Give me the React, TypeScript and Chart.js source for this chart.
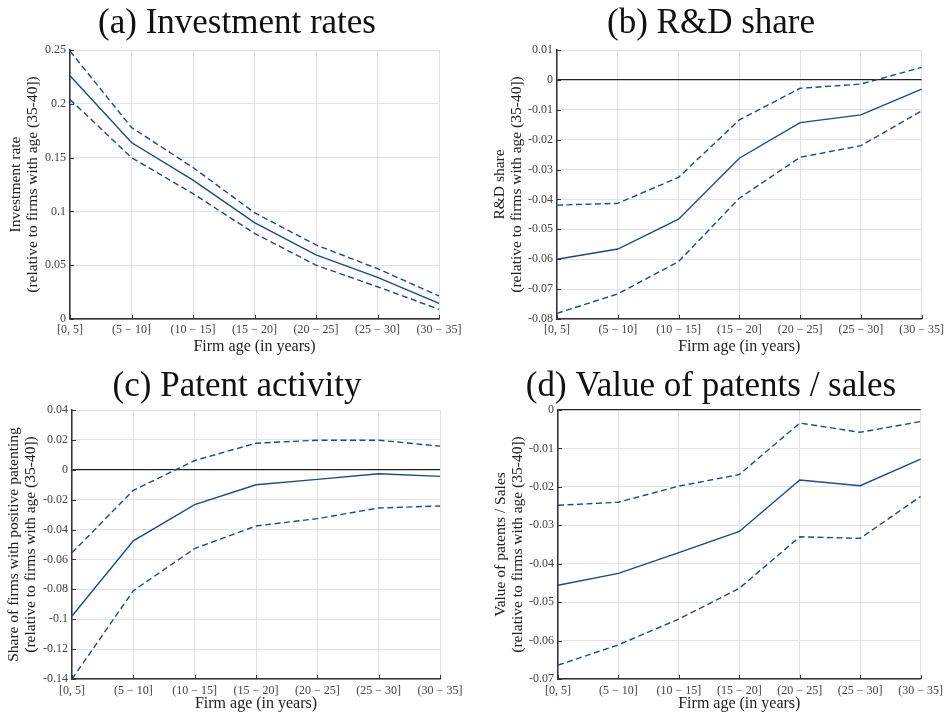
import React, { useEffect, useRef } from 'react';
import { Chart, registerables } from 'chart.js';

Chart.register(...registerables);

const FONT = "'Liberation Serif', 'Times New Roman', serif";
const LINE_COLOR = '#1b4b8c';

const ageGroups = ['[0, 5]', '(5 − 10]', '(10 − 15]', '(15 − 20]', '(20 − 25]', '(25 − 30]', '(30 − 35]'];

// (a) Investment rates
const invEst = [0.226, 0.164, 0.129, 0.0895, 0.0595, 0.0387, 0.0146];
const invUpper = [0.249, 0.178, 0.1408, 0.0988, 0.0688, 0.0468, 0.0214];
const invLower = [0.204, 0.15, 0.1165, 0.0796, 0.05, 0.03, 0.009];

// (b) R&D share
const rdEst = [-0.06, -0.0566, -0.0466, -0.0262, -0.0143, -0.0117, -0.0031];
const rdUpper = [-0.0419, -0.0413, -0.0326, -0.0134, -0.0028, -0.0014, 0.0042];
const rdLower = [-0.0781, -0.0716, -0.0608, -0.0396, -0.0259, -0.022, -0.0104];

// (c) Patent activity
const patEst = [-0.0978, -0.0476, -0.0233, -0.01, -0.0064, -0.0027, -0.0044];
const patUpper = [-0.0555, -0.0138, 0.0062, 0.0178, 0.0198, 0.0198, 0.0158];
const patLower = [-0.14, -0.0809, -0.0527, -0.0376, -0.0327, -0.0256, -0.0242];

// (d) Value of patents / sales
const valEst = [-0.0456, -0.0425, -0.0371, -0.0316, -0.0182, -0.0197, -0.0128];
const valUpper = [-0.0248, -0.024, -0.0198, -0.0168, -0.0034, -0.0058, -0.003];
const valLower = [-0.0664, -0.0611, -0.0544, -0.0464, -0.033, -0.0334, -0.0225];

const titles = ['(a) Investment rates', '(b) R&D share', '(c) Patent activity', '(d) Value of patents / sales'];
const yTitles = [
  ['Investment rate', '(relative to firms with age (35-40])'],
  ['R&D share', '(relative to firms with age (35-40])'],
  ['Share of firms with positive patenting', '(relative to firms with age (35-40])'],
  ['Value of patents / Sales', '(relative to firms with age (35-40])'],
];
const xTitle = 'Firm age (in years)';

const yRanges = [
  [0, 0.25, 0.05],
  [-0.08, 0.01, 0.01],
  [-0.14, 0.04, 0.02],
  [-0.07, 0, 0.01],
];

type PanelProps = {
  idx: number;
  est: number[];
  upper: number[];
  lower: number[];
  left: number;
  top: number;
  padX: number;
  yAxisW: number;
  yTitleShift: number;
  titlePad: { top: number; bottom: number };
  xAxisH: number;
  xTitleBottom: number;
  xTickPad: number;
};

const W = 474;
const H = 356;

const innerTicks = {
  id: 'innerTicks',
  afterDraw(chart: any) {
    const { ctx, chartArea: a, scales } = chart;
    const x = scales.x;
    const y = scales.y;
    ctx.save();
    ctx.strokeStyle = '#333';
    ctx.lineWidth = 1;
    ctx.beginPath();
    x.ticks.forEach((_: any, i: number) => {
      const px = Math.round(x.getPixelForTick(i)) + 0.5;
      ctx.moveTo(px, a.bottom);
      ctx.lineTo(px, a.bottom - 4);
    });
    y.ticks.forEach((_: any, i: number) => {
      const py = Math.round(y.getPixelForTick(i)) + 0.5;
      ctx.moveTo(a.left, py);
      ctx.lineTo(a.left + 4, py);
    });
    ctx.stroke();
    ctx.restore();
  },
};

function Panel(p: PanelProps) {
  const ref = useRef<HTMLCanvasElement | null>(null);
  useEffect(() => {
    if (!ref.current) return;
    const [yMin, yMax, yStep] = yRanges[p.idx];
    const chart = new Chart(ref.current, {
      type: 'line',
      data: {
        labels: ageGroups,
        datasets: [
          { data: p.est, borderColor: LINE_COLOR, borderWidth: 1.4, pointRadius: 0, tension: 0, fill: false },
          { data: p.upper, borderColor: LINE_COLOR, borderWidth: 1.4, borderDash: [6, 3.5], pointRadius: 0, tension: 0, fill: false },
          { data: p.lower, borderColor: LINE_COLOR, borderWidth: 1.4, borderDash: [6, 3.5], pointRadius: 0, tension: 0, fill: false },
        ],
      },
      options: {
        animation: false,
        responsive: false,
        devicePixelRatio: 1,
        layout: { padding: { left: p.padX, right: p.padX, top: 0, bottom: 0 } },
        plugins: {
          legend: { display: false },
          tooltip: { enabled: false },
          title: {
            display: true,
            text: titles[p.idx],
            color: '#111',
            font: { family: FONT, size: 35, weight: 'normal', lineHeight: 1.2 },
            padding: p.titlePad,
          },
        },
        scales: {
          x: {
            type: 'category',
            grid: { color: '#e2e2e2', lineWidth: 1, drawTicks: false },
            border: { color: '#333', width: 1.5 },
            ticks: {
              color: '#444',
              font: { family: FONT, size: 12 },
              padding: p.xTickPad,
              maxRotation: 0,
              minRotation: 0,
              autoSkip: false,
            },
            title: {
              display: true,
              text: xTitle,
              color: '#222',
              font: { family: FONT, size: 16, lineHeight: 1 },
              padding: { top: 0, bottom: p.xTitleBottom },
            },
            afterFit: (s: any) => {
              s.height = p.xAxisH;
            },
          },
          y: {
            type: 'linear',
            min: yMin,
            max: yMax,
            grid: {
              drawTicks: false,
              color: (c: any) => (c.tick && Math.abs(c.tick.value) < 1e-9 ? '#222' : '#e2e2e2'),
              lineWidth: (c: any) => (c.tick && Math.abs(c.tick.value) < 1e-9 ? 1.3 : 1),
            },
            border: { color: '#333', width: 1.5 },
            ticks: {
              stepSize: yStep,
              color: '#444',
              font: { family: FONT, size: 12 },
              padding: 4,
              callback: (v: any) => parseFloat(Number(v).toFixed(4)).toString(),
            },
            title: {
              display: true,
              text: yTitles[p.idx],
              color: '#222',
              font: { family: FONT, size: 15.5, lineHeight: 1.1 },
              padding: { top: p.yTitleShift, bottom: 0 },
            },
            afterFit: (s: any) => {
              s.width = p.yAxisW;
            },
          },
        },
      } as any,
      plugins: [innerTicks],
    });
    return () => chart.destroy();
  }, []);
  return (
    <div style={{ position: 'absolute', left: p.left, top: p.top, width: W, height: H }}>
      <canvas ref={ref} width={W} height={H} style={{ width: W, height: H, display: 'block' }} />
    </div>
  );
}

export default function App() {
  return (
    <div
      style={{
        position: 'absolute',
        left: 0,
        top: 0,
        width: 948,
        height: 712,
        overflow: 'hidden',
        background: '#fff',
      }}
    >
      <Panel idx={0} est={invEst} upper={invUpper} lower={invLower} left={0} top={0} padX={35} yAxisW={35}
        yTitleShift={-27.5} titlePad={{ top: 3, bottom: 5 }} xAxisH={37} xTitleBottom={1.5} xTickPad={4} />
      <Panel idx={1} est={rdEst} upper={rdUpper} lower={rdLower} left={474} top={0} padX={23} yAxisW={60}
        yTitleShift={-5.5} titlePad={{ top: 3, bottom: 5 }} xAxisH={37} xTitleBottom={1.5} xTickPad={4} />
      <Panel idx={2} est={patEst} upper={patUpper} lower={patLower} left={0} top={356} padX={34} yAxisW={38}
        yTitleShift={-28.5} titlePad={{ top: 10, bottom: 2 }} xAxisH={33} xTitleBottom={0} xTickPad={5} />
      <Panel idx={3} est={valEst} upper={valUpper} lower={valLower} left={474} top={356} padX={23} yAxisW={61}
        yTitleShift={-4.8} titlePad={{ top: 10, bottom: 2 }} xAxisH={33} xTitleBottom={0} xTickPad={5} />
    </div>
  );
}
